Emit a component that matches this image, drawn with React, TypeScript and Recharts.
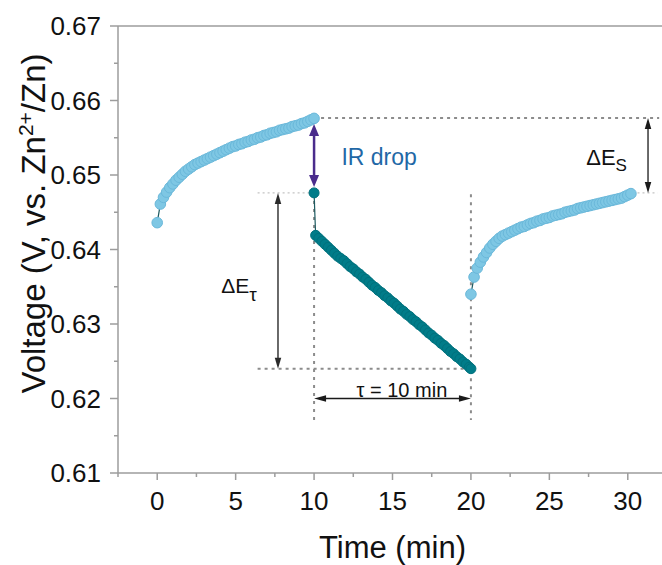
import React from 'react';
import { ComposedChart, Line, XAxis, YAxis, ReferenceLine, ReferenceDot } from 'recharts';

const FONT = '"Liberation Sans", Arial, Helvetica, sans-serif';
const AXIS = '#9c9c9c';

// First rest period (light blue)
const rest1Time = [0, 0.2, 0.4, 0.6, 0.8, 1.0, 1.2, 1.4, 1.6, 1.8, 2.0, 2.2, 2.4, 2.6, 2.8, 3.0, 3.2, 3.4, 3.6, 3.8, 4.0, 4.2, 4.4, 4.6, 4.8, 5.0, 5.2, 5.4, 5.6, 5.8, 6.0, 6.2, 6.4, 6.6, 6.8, 7.0, 7.2, 7.4, 7.6, 7.8, 8.0, 8.2, 8.4, 8.6, 8.8, 9.0, 9.2, 9.4, 9.6, 9.8, 10.0];
const rest1Volt = [0.6436, 0.6461, 0.6470, 0.6477, 0.6483, 0.6488, 0.6493, 0.6497, 0.6501, 0.6505, 0.6508, 0.6511, 0.6514, 0.6516, 0.6518, 0.6520, 0.6522, 0.6524, 0.6526, 0.6528, 0.6530, 0.6532, 0.6534, 0.6536, 0.6538, 0.6539, 0.6541, 0.6542, 0.6544, 0.6545, 0.6547, 0.6548, 0.6550, 0.6551, 0.6553, 0.6554, 0.6556, 0.6557, 0.6558, 0.6560, 0.6561, 0.6562, 0.6563, 0.6565, 0.6566, 0.6567, 0.6569, 0.6570, 0.6572, 0.6574, 0.6576];

// Current pulse (teal)
const pulseTime = [10.0, 10.1, 10.3, 10.5, 10.7, 10.9, 11.1, 11.3, 11.5, 11.7, 11.9, 12.1, 12.3, 12.5, 12.7, 12.9, 13.1, 13.3, 13.5, 13.7, 13.9, 14.1, 14.3, 14.5, 14.7, 14.9, 15.1, 15.3, 15.5, 15.7, 15.9, 16.1, 16.3, 16.5, 16.7, 16.9, 17.1, 17.3, 17.5, 17.7, 17.9, 18.1, 18.3, 18.5, 18.7, 18.9, 19.1, 19.3, 19.5, 19.7, 19.9, 20.0];
const pulseVolt = [0.6476, 0.6419, 0.6415, 0.6411, 0.6407, 0.6403, 0.6399, 0.6395, 0.6391, 0.6388, 0.6385, 0.6381, 0.6377, 0.6374, 0.6370, 0.6367, 0.6363, 0.6360, 0.6356, 0.6352, 0.6349, 0.6345, 0.6342, 0.6338, 0.6335, 0.6331, 0.6328, 0.6324, 0.6320, 0.6317, 0.6313, 0.6310, 0.6306, 0.6303, 0.6299, 0.6296, 0.6292, 0.6288, 0.6285, 0.6281, 0.6278, 0.6274, 0.6271, 0.6267, 0.6263, 0.6260, 0.6256, 0.6253, 0.6249, 0.6246, 0.6242, 0.6240];

// Second rest period (light blue)
const rest2Time = [20.0, 20.2, 20.4, 20.6, 20.8, 21.0, 21.2, 21.4, 21.6, 21.8, 22.0, 22.2, 22.4, 22.6, 22.8, 23.0, 23.2, 23.4, 23.6, 23.8, 24.0, 24.2, 24.4, 24.6, 24.8, 25.0, 25.2, 25.4, 25.6, 25.8, 26.0, 26.2, 26.4, 26.6, 26.8, 27.0, 27.2, 27.4, 27.6, 27.8, 28.0, 28.2, 28.4, 28.6, 28.8, 29.0, 29.2, 29.4, 29.6, 29.8, 30.0, 30.2];
const rest2Volt = [0.6340, 0.6363, 0.6375, 0.6383, 0.6390, 0.6396, 0.6402, 0.6407, 0.6411, 0.6415, 0.6418, 0.6420, 0.6422, 0.6424, 0.6426, 0.6428, 0.6430, 0.6431, 0.6433, 0.6435, 0.6436, 0.6438, 0.6439, 0.6441, 0.6442, 0.6443, 0.6445, 0.6446, 0.6447, 0.6448, 0.6450, 0.6451, 0.6452, 0.6453, 0.6455, 0.6456, 0.6457, 0.6458, 0.6459, 0.6460, 0.6461, 0.6462, 0.6463, 0.6464, 0.6465, 0.6466, 0.6467, 0.6468, 0.6469, 0.6471, 0.6473, 0.6475];

const xTicks = [-2.5, 0, 2.5, 5, 7.5, 10, 12.5, 15, 17.5, 20, 22.5, 25, 27.5, 30, 32.5];
const xMajor = [0, 5, 10, 15, 20, 25, 30];
const yTicks = [0.61, 0.615, 0.62, 0.625, 0.63, 0.635, 0.64, 0.645, 0.65, 0.655, 0.66, 0.665, 0.67];

// Annotation values (minutes / volts)
const eRestEnd = 0.65765;
const ePulseStart = 0.6476;
const ePulseEnd = 0.624;
const tPulseStart = 10;
const tPulseEnd = 20;

const toSeries = (ts: number[], vs: number[]) => ts.map((t, i) => ({ t, v: vs[i] }));
const rest1 = toSeries(rest1Time, rest1Volt);
const pulse = toSeries(pulseTime, pulseVolt);
const rest2 = toSeries(rest2Time, rest2Volt);

const XTick = (props: any) => {
  const { x, y, payload } = props;
  const v = payload.value;
  const major = xMajor.includes(v);
  return (
    <g>
      <line x1={x} x2={x} y1={y} y2={y + (major ? 7 : 4)} stroke={AXIS} strokeWidth={1.5} />
      {major && (
        <text x={x} y={y + 37} textAnchor="middle" fontSize={26} fontFamily={FONT} fill="#111">
          {v}
        </text>
      )}
    </g>
  );
};

const YTick = (props: any) => {
  const { x, y, payload } = props;
  const val = Number(payload.value);
  const label = val.toFixed(2);
  const major = Math.abs(val * 100 - Math.round(val * 100)) < 1e-6;
  return (
    <g>
      <line x1={x - (major ? 8 : 4)} x2={x} y1={y} y2={y} stroke={AXIS} strokeWidth={1.5} />
      {major && (
        <text x={x - 17} y={y + 9} textAnchor="end" fontSize={26} fontFamily={FONT} fill="#111">
          {label}
        </text>
      )}
    </g>
  );
};

const YTitle = (props: any) => {
  const vb = props.viewBox || { x: 0, y: 26, width: 118, height: 447 };
  const cx = vb.x + 45;
  const cy = vb.y + vb.height / 2 - 26;
  return (
    <text
      x={cx}
      y={cy}
      transform={`rotate(-90, ${cx}, ${cy})`}
      textAnchor="middle"
      fontSize={33}
      fontFamily={FONT}
      fill="#111"
    >
      Voltage (V, vs. Zn
      <tspan dy={-12} fontSize={21}>2+</tspan>
      <tspan dy={12}>/Zn)</tspan>
    </text>
  );
};

const XTitle = (props: any) => {
  const vb = props.viewBox || { x: 118, y: 473, width: 549, height: 92 };
  return (
    <text x={vb.x + vb.width / 2} y={vb.y + 85} textAnchor="middle" fontSize={31} fontFamily={FONT} fill="#111">
      Time (min)
    </text>
  );
};

const arrowShape = (color: string, sw: number, hl: number, hw: number) => (p: any) => {
  const { x1, y1, x2, y2 } = p;
  const dx = x2 - x1;
  const dy = y2 - y1;
  const len = Math.hypot(dx, dy) || 1;
  const ux = dx / len;
  const uy = dy / len;
  const px = -uy;
  const py = ux;
  const head = (tx: number, ty: number, ex: number, ey: number) =>
    `M${tx},${ty} L${tx - ex * hl + (px * hw) / 2},${ty - ey * hl + (py * hw) / 2} L${tx - ex * hl - (px * hw) / 2},${ty - ey * hl - (py * hw) / 2} Z`;
  return (
    <g>
      <line
        x1={x1 + ux * hl * 0.7}
        y1={y1 + uy * hl * 0.7}
        x2={x2 - ux * hl * 0.7}
        y2={y2 - uy * hl * 0.7}
        stroke={color}
        strokeWidth={sw}
      />
      <path d={head(x2, y2, ux, uy)} fill={color} />
      <path d={head(x1, y1, -ux, -uy)} fill={color} />
    </g>
  );
};

const textShape = (content: React.ReactNode, opts: { anchor?: string; size: number; color: string; dy?: number }) => (p: any) => (
  <text
    x={p.cx}
    y={p.cy + (opts.dy || 0)}
    textAnchor={opts.anchor || 'start'}
    fontSize={opts.size}
    fontFamily={FONT}
    fill={opts.color}
  >
    {content}
  </text>
);

const DOT_GRAY = '#8c8c8c';

export default function App() {
  return (
    <div style={{ position: 'absolute', left: 0, top: 0, width: 662, height: 565, overflow: 'hidden', background: '#fff' }}>
      <ComposedChart width={680} height={565} margin={{ top: 26, right: 13, bottom: 0, left: 0 }}>
        <XAxis
          type="number"
          dataKey="t"
          domain={[-2.5, 32.5]}
          ticks={xTicks}
          interval={0}
          allowDataOverflow
          height={92}
          tickSize={0}
          tickMargin={0}
          tick={<XTick />}
          axisLine={{ stroke: AXIS, strokeWidth: 1.5 }}
          label={<XTitle />}
        />
        <YAxis
          type="number"
          dataKey="v"
          domain={[0.61, 0.67]}
          ticks={yTicks}
          interval={0}
          allowDataOverflow
          width={118}
          tickSize={0}
          tickMargin={0}
          tick={<YTick />}
          axisLine={{ stroke: AXIS, strokeWidth: 1.5 }}
          label={<YTitle />}
        />
        <ReferenceLine y={0.67} stroke={AXIS} strokeWidth={1.5} ifOverflow="visible" />

        {/* dotted guide lines */}
        <ReferenceLine segment={[{ x: tPulseStart, y: eRestEnd }, { x: 32, y: eRestEnd }]} stroke={DOT_GRAY} strokeWidth={2} strokeDasharray="3 4" ifOverflow="visible" />
        <ReferenceLine segment={[{ x: 6.4, y: ePulseStart }, { x: tPulseStart, y: ePulseStart }]} stroke="#c4c4c4" strokeWidth={1.2} strokeDasharray="2 3" ifOverflow="visible" />
        <ReferenceLine segment={[{ x: 30.3, y: ePulseStart }, { x: 31.9, y: ePulseStart }]} stroke="#c4c4c4" strokeWidth={1.2} strokeDasharray="2 3" ifOverflow="visible" />
        <ReferenceLine segment={[{ x: 6.4, y: ePulseEnd }, { x: tPulseEnd, y: ePulseEnd }]} stroke={DOT_GRAY} strokeWidth={2} strokeDasharray="3 4" ifOverflow="visible" />
        <ReferenceLine segment={[{ x: tPulseStart, y: ePulseStart }, { x: tPulseStart, y: 0.6171 }]} stroke={DOT_GRAY} strokeWidth={2} strokeDasharray="3 5" ifOverflow="visible" />
        <ReferenceLine segment={[{ x: tPulseEnd, y: 0.6474 }, { x: tPulseEnd, y: 0.6171 }]} stroke={DOT_GRAY} strokeWidth={2} strokeDasharray="3 5" ifOverflow="visible" />

        {/* arrows */}
        <ReferenceLine segment={[{ x: tPulseStart, y: 0.65685 }, { x: tPulseStart, y: 0.6484 }]} shape={arrowShape('#4a2c8c', 2.5, 12, 10)} ifOverflow="visible" />
        <ReferenceLine segment={[{ x: 31.29, y: eRestEnd }, { x: 31.29, y: ePulseStart }]} shape={arrowShape('#1a1a1a', 1.3, 11, 6.5)} ifOverflow="visible" />
        <ReferenceLine segment={[{ x: 7.7, y: ePulseStart }, { x: 7.7, y: ePulseEnd }]} shape={arrowShape('#2a2a2a', 1.4, 11, 6.5)} ifOverflow="visible" />
        <ReferenceLine segment={[{ x: tPulseStart, y: 0.62 }, { x: tPulseEnd, y: 0.62 }]} shape={arrowShape('#1a1a1a', 1.3, 12, 6.5)} ifOverflow="visible" />

        {/* data */}
        <Line data={rest1} dataKey="v" type="linear" stroke="#1d5a60" strokeWidth={1.2} isAnimationActive={false}
          dot={{ r: 5.3, fill: '#7ec7e4', stroke: '#6ab8da', strokeWidth: 1 }} activeDot={false} />
        <Line data={pulse} dataKey="v" type="linear" stroke="#1d5a60" strokeWidth={1.2} isAnimationActive={false}
          dot={{ r: 5, fill: '#007c89', stroke: '#00717d', strokeWidth: 1 }} activeDot={false} />
        <Line data={rest2} dataKey="v" type="linear" stroke="#1d5a60" strokeWidth={1.2} isAnimationActive={false}
          dot={{ r: 5.3, fill: '#7ec7e4', stroke: '#6ab8da', strokeWidth: 1 }} activeDot={false} />

        {/* labels */}
        <ReferenceDot x={14.15} y={0.65242} r={0} ifOverflow="visible"
          shape={textShape('IR drop', { anchor: 'middle', size: 23, color: '#1f68a6', dy: 8 })} />
        <ReferenceDot x={27.35} y={0.65134} r={0} ifOverflow="visible"
          shape={textShape(<>ΔE<tspan dy={6} fontSize={17}>S</tspan></>, { size: 22, color: '#111' })} />
        <ReferenceDot x={4.08} y={0.63412} r={0} ifOverflow="visible"
          shape={textShape(<>ΔE<tspan dy={8} fontSize={19}>τ</tspan></>, { size: 21, color: '#111' })} />
        <ReferenceDot x={15.6} y={0.62024} r={0} ifOverflow="visible"
          shape={textShape('τ = 10 min', { anchor: 'middle', size: 20, color: '#111' })} />
      </ComposedChart>
    </div>
  );
}
